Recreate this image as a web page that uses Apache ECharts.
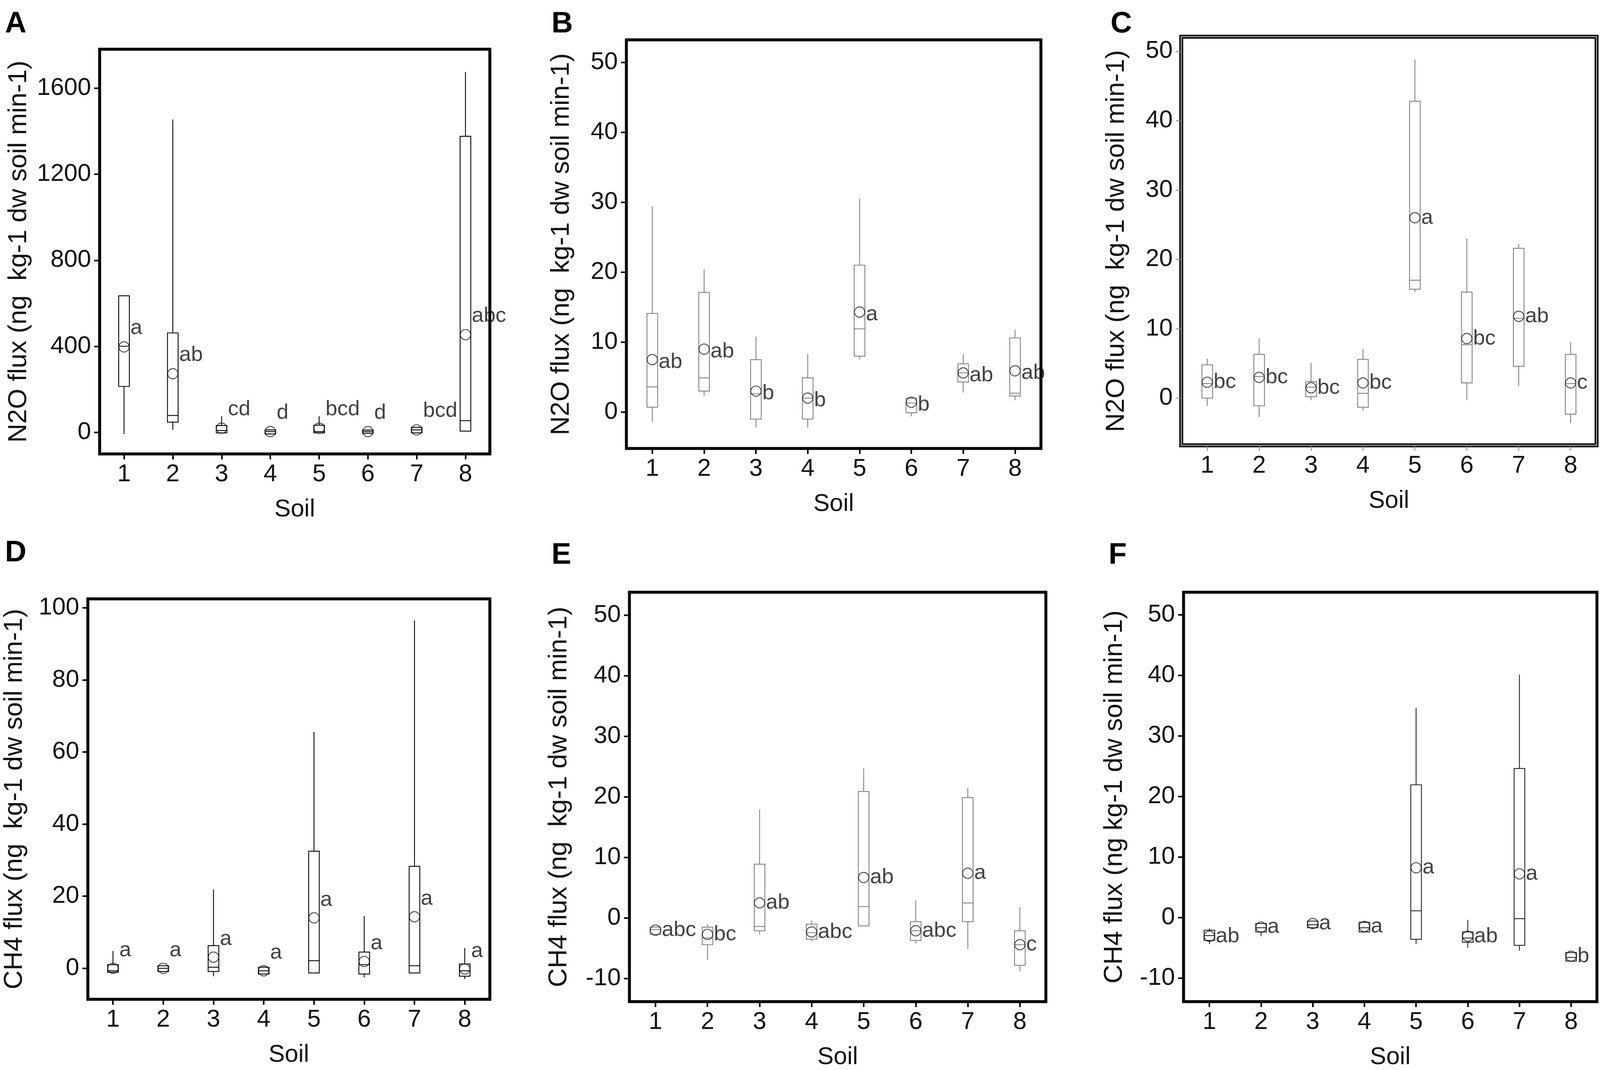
<!DOCTYPE html>
<html>
<head>
<meta charset="UTF-8">
<title>Soil flux boxplots</title>
<script src="https://cdn.jsdelivr.net/npm/echarts@6.0.0/dist/echarts.min.js"></script>
<style>
  html, body { margin: 0; padding: 0; background: #fff; overflow: hidden; }
  #main { width: 100vw; height: 100vh; }
</style>
</head>
<body>
<div id="main"></div>
<script type="text/javascript">
// soils on the x axis
var soils = ['1', '2', '3', '4', '5', '6', '7', '8'];

// A - N2O flux
var aLow  = [-8, 11, -3, -8, -3, -5, -3, 5];
var aQ1   = [213, 47, -3, -8, -3, -5, -3, 5];
var aMed  = [400, 78, 8, 3, 3, 3, 11, 54];
var aQ3   = [635, 462, 31, 11, 33, 10, 23, 1377];
var aHigh = [635, 1455, 75, 11, 75, 10, 23, 1676];
var aMean = [397, 272, 19, 3, 19, 3, 11, 454];
var aLetters = ['a', 'ab', 'cd', 'd', 'bcd', 'd', 'bcd', 'abc'];
var aTicks = [0, 400, 800, 1200, 1600];

// B - N2O flux
var bLow  = [-1.4, 2.3, -2.2, -2.2, 7.5, -0.6, 2.8, 1.7];
var bQ1   = [0.7, 3.0, -1.0, -1.0, 8.0, -0.1, 4.3, 2.3];
var bMed  = [3.6, 4.9, 2.6, 2.0, 11.9, 1.3, 5.6, 2.7];
var bQ3   = [14.1, 17.1, 7.5, 4.9, 21.0, 2.0, 6.9, 10.6];
var bHigh = [29.4, 20.4, 10.8, 8.3, 30.5, 2.0, 8.3, 11.8];
var bMean = [7.5, 9.0, 3.0, 2.0, 14.3, 1.4, 5.6, 5.9];
var bLetters = ['ab', 'ab', 'b', 'b', 'a', 'b', 'ab', 'ab'];

// C - N2O flux
var cLow  = [-1.1, -2.7, -0.3, -1.8, 15.3, -0.3, 1.7, -3.6];
var cQ1   = [0, -1.1, 0.2, -1.3, 15.7, 2.2, 4.6, -2.3];
var cMed  = [2.1, 3.1, 1.6, 0.7, 17.0, 7.7, 11.5, 2.1];
var cQ3   = [4.8, 6.3, 2.4, 5.6, 42.8, 15.3, 21.6, 6.3];
var cHigh = [5.7, 8.6, 5.1, 7.1, 48.8, 23.0, 22.2, 8.1];
var cMean = [2.3, 3.0, 1.5, 2.2, 26.0, 8.6, 11.8, 2.2];
var cLetters = ['bc', 'bc', 'bc', 'bc', 'a', 'bc', 'ab', 'c'];
var n2oTicks = [0, 10, 20, 30, 40, 50];

// D - CH4 flux
var dLow  = [-1.1, -0.9, -2.2, -1.6, -1.3, -2.5, -1.3, -3.0];
var dQ1   = [-1.1, -0.9, -0.9, -1.6, -1.3, -1.6, -1.3, -2.2];
var dMed  = [-0.7, 0, 0.3, -0.7, 2.1, 1.0, 0.7, -0.7];
var dQ3   = [1.0, 0.7, 6.3, 0.3, 32.5, 4.5, 28.3, 1.2];
var dHigh = [4.8, 0.7, 21.9, 0.3, 65.6, 14.5, 96.5, 5.6];
var dMean = [0, 0, 3.1, -0.7, 14.0, 1.9, 14.3, -0.2];
var dLetters = ['a', 'a', 'a', 'a', 'a', 'a', 'a', 'a'];
var dTicks = [0, 20, 40, 60, 80, 100];

// E - CH4 flux
var eLow  = [-2.7, -6.9, -2.7, -3.9, -1.3, -4.2, -5.1, -8.8];
var eQ1   = [-2.7, -4.4, -2.1, -3.5, -1.3, -3.7, -0.6, -7.8];
var eMed  = [-1.9, -3.3, -1.4, -2.4, 1.9, -2.1, 2.5, -4.4];
var eQ3   = [-1.5, -1.5, 8.9, -1.0, 20.9, -0.6, 19.9, -2.1];
var eHigh = [-1.5, -1.0, 17.9, -0.4, 24.7, 2.9, 21.5, 1.8];
var eMean = [-2.0, -2.7, 2.5, -2.3, 6.7, -2.1, 7.4, -4.4];
var eLetters = ['abc', 'bc', 'ab', 'abc', 'ab', 'abc', 'a', 'c'];

// F - CH4 flux
var fLow  = [-4.4, -3.1, -1.7, -2.4, -4.4, -5.0, -5.5, -7.2];
var fQ1   = [-3.8, -2.4, -1.7, -2.4, -3.6, -4.1, -4.6, -7.2];
var fMed  = [-3.0, -1.7, -1.2, -1.7, 1.1, -3.4, -0.2, -6.6];
var fQ3   = [-2.1, -1.0, -0.6, -0.8, 21.9, -2.4, 24.6, -5.8];
var fHigh = [-1.8, -1.0, -0.6, -0.6, 34.6, -0.4, 40.1, -5.8];
var fMean = [-3.1, -1.6, -1.0, -1.5, 8.2, -3.1, 7.2, -6.4];
var fLetters = ['ab', 'a', 'a', 'a', 'a', 'ab', 'a', 'b'];
var ch4Ticks = [-10, 0, 10, 20, 30, 40, 50];

var FONT = "'Liberation Sans', Arial, sans-serif";

// layout is worked out for a 4207 x 2739 page and scaled to the real viewport
var REF_W = 4207, REF_H = 2739;

var panels = [
    { tag: 'A', rect: [262, 126, 1026, 1036], min: -101, max: 1782, ticks: aTicks,
      low: aLow, q1: aQ1, med: aMed, q3: aQ3, high: aHigh, mean: aMean, letters: aLetters,
      name: 'N2O flux (ng  kg-1 dw soil min-1)', nameGap: 178, line: '#000', tick: '#000', dy: -48, letter: [13, 24] },
    { tag: 'B', rect: [1647, 102, 1090, 1046], min: -5.2, max: 53.2, ticks: n2oTicks,
      low: bLow, q1: bQ1, med: bMed, q3: bQ3, high: bHigh, mean: bMean, letters: bLetters,
      name: 'N2O flux (ng  kg-1 dw soil min-1)', nameGap: 136, line: '#808080', tick: '#000', dy: 6, letter: [1450, 24] },
    { tag: 'C', rect: [3106, 94, 1092, 1046], min: -6.8, max: 52.1, ticks: n2oTicks,
      low: cLow, q1: cQ1, med: cMed, q3: cQ3, high: cHigh, mean: cMean, letters: cLetters,
      name: 'N2O flux (ng  kg-1 dw soil min-1)', nameGap: 136, line: '#808080', tick: '#808080', dy: 0, letter: [2920, 24], doubleFrame: true },
    { tag: 'D', rect: [231, 1533, 1057, 1025], min: -8.6, max: 102.5, ticks: dTicks,
      low: dLow, q1: dQ1, med: dMed, q3: dQ3, high: dHigh, mean: dMean, letters: dLetters,
      name: 'CH4 flux (ng  kg-1 dw soil min-1)', nameGap: 158, line: '#000', tick: '#000', dy: -46, letter: [13, 1378] },
    { tag: 'E', rect: [1655, 1516, 1095, 1052], min: -13.8, max: 53.8, ticks: ch4Ticks,
      low: eLow, q1: eQ1, med: eMed, q3: eQ3, high: eHigh, mean: eMean, letters: eLetters,
      name: 'CH4 flux (ng  kg-1 dw soil min-1)', nameGap: 150, line: '#808080', tick: '#000', dy: 0, letter: [1450, 1384] },
    { tag: 'F', rect: [3112, 1516, 1087, 1052], min: -13.9, max: 53.7, ticks: ch4Ticks,
      low: fLow, q1: fQ1, med: fMed, q3: fQ3, high: fHigh, mean: fMean, letters: fLetters,
      name: 'CH4 flux (ng kg-1 dw soil min-1)', nameGap: 147, line: '#222', tick: '#000', dy: 0, letter: [2915, 1384] }
];

var chart = echarts.init(document.getElementById('main'), null, { renderer: 'canvas' });
var sx = chart.getWidth() / REF_W;
var sy = chart.getHeight() / REF_H;
var fs = Math.min(sx, sy);

var grid = [], xAxis = [], yAxis = [], series = [], graphic = [];

panels.forEach(function (p, k) {
    var r = [p.rect[0] * sx, p.rect[1] * sy, p.rect[2] * sx, p.rect[3] * sy];
    grid.push({
        left: r[0], top: r[1], width: r[2], height: r[3],
        show: true, borderColor: '#000', borderWidth: p.doubleFrame ? 10 : 7.5,
        backgroundColor: 'transparent'
    });
    xAxis.push({
        type: 'category', gridIndex: k, data: soils, boundaryGap: true,
        axisLine: { show: false, onZero: false },
        axisTick: { show: true, alignWithLabel: true, length: 14, lineStyle: { color: p.tick, width: p.doubleFrame ? 2 : 4 } },
        axisLabel: { margin: 22, fontSize: 64 * fs, color: '#111', fontFamily: FONT },
        name: 'Soil', nameLocation: 'middle', nameGap: 112,
        nameTextStyle: { fontSize: 64 * fs, color: '#111', fontFamily: FONT }
    });
    yAxis.push({
        type: 'value', gridIndex: k, min: p.min, max: p.max,
        splitLine: { show: false },
        axisLine: { show: false, onZero: false },
        axisTick: { show: true, length: 14, customValues: p.ticks, lineStyle: { color: p.tick, width: p.doubleFrame ? 2 : 4 } },
        axisLabel: {
            margin: 22, fontSize: 64 * fs, color: '#111', fontFamily: FONT, customValues: p.ticks,
            formatter: function (v) { return String(v); }
        },
        name: p.name, nameLocation: 'middle', nameGap: p.nameGap * sx, nameRotate: 90,
        nameTextStyle: { fontSize: 69 * fs, color: '#111', fontFamily: FONT }
    });

    var boxData = soils.map(function (s, i) {
        return [i, p.low[i], p.q1[i], p.med[i], p.q3[i], p.high[i]];
    });
    series.push({
        type: 'custom', xAxisIndex: k, yAxisIndex: k, data: boxData,
        encode: { x: 0, y: [1, 2, 3, 4, 5] },
        silent: true,
        renderItem: (function (color) {
            return function (params, api) {
                var x = api.value(0);
                var lo = api.coord([x, api.value(1)]);
                var q1 = api.coord([x, api.value(2)]);
                var md = api.coord([x, api.value(3)]);
                var q3 = api.coord([x, api.value(4)]);
                var hi = api.coord([x, api.value(5)]);
                var hw = 14 * sx;
                var st = { stroke: color, lineWidth: 2.2, fill: null };
                return {
                    type: 'group',
                    children: [
                        { type: 'line', shape: { x1: lo[0], y1: lo[1], x2: q1[0], y2: q1[1] }, style: st },
                        { type: 'line', shape: { x1: q3[0], y1: q3[1], x2: hi[0], y2: hi[1] }, style: st },
                        { type: 'rect', shape: { x: q3[0] - hw, y: q3[1], width: hw * 2, height: Math.max(q1[1] - q3[1], 1) }, style: st },
                        { type: 'line', shape: { x1: md[0] - hw, y1: md[1], x2: md[0] + hw, y2: md[1] }, style: st }
                    ]
                };
            };
        })(p.line)
    });
    series.push({
        type: 'scatter', xAxisIndex: k, yAxisIndex: k,
        data: p.mean.map(function (v, i) { return [i, v]; }),
        symbol: 'circle', symbolSize: 27 * fs, silent: true,
        itemStyle: { color: 'rgba(0,0,0,0)', borderColor: '#111', borderWidth: 2.2 },
        label: {
            show: true, position: 'right', distance: 2, offset: [0, p.dy],
            fontSize: 56 * fs, color: '#111', fontFamily: FONT,
            formatter: (function (letters) {
                return function (d) { return letters[d.dataIndex]; };
            })(p.letters)
        },
        emphasis: { disabled: true }
    });

    graphic.push({
        type: 'text', left: p.letter[0] * sx, top: p.letter[1] * sy,
        style: { text: p.tag, fontSize: 78 * fs, fontWeight: 'bold', fill: '#000', fontFamily: FONT }
    });
    if (p.doubleFrame) {
        graphic.push({
            type: 'rect', z: 100, silent: true,
            shape: { x: r[0], y: r[1], width: r[2], height: r[3] },
            style: { fill: null, stroke: '#9a9a9a', lineWidth: 3 }
        });
    }
});

var option = {
    backgroundColor: '#fff',
    animation: false,
    grid: grid,
    xAxis: xAxis,
    yAxis: yAxis,
    series: series,
    graphic: graphic
};

chart.setOption(option);
window.addEventListener('resize', function () { chart.resize(); });
</script>
</body>
</html>
